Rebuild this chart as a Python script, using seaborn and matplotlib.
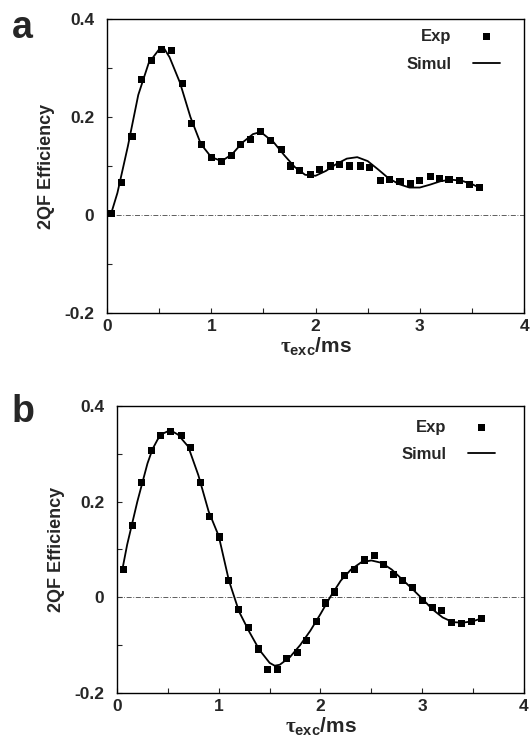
import seaborn as sns
import pandas as pd
import matplotlib.pyplot as plt

# panel a: experimental points
a_exp_t = [0.04, 0.14, 0.24, 0.33, 0.43, 0.52, 0.62, 0.72, 0.81, 0.91, 1.00, 1.10, 1.19,
           1.28, 1.38, 1.47, 1.57, 1.67, 1.76, 1.85, 1.95, 2.04, 2.14, 2.23, 2.33, 2.43,
           2.52, 2.62, 2.71, 2.81, 2.91, 3.00, 3.10, 3.19, 3.28, 3.38, 3.48, 3.57]
a_exp_y = [0.003, 0.066, 0.160, 0.277, 0.315, 0.338, 0.335, 0.269, 0.187, 0.143, 0.118,
           0.109, 0.122, 0.143, 0.154, 0.170, 0.152, 0.133, 0.100, 0.090, 0.082, 0.092,
           0.100, 0.103, 0.100, 0.100, 0.097, 0.070, 0.073, 0.069, 0.065, 0.071, 0.078,
           0.075, 0.073, 0.070, 0.063, 0.056]
# panel a: simulation
a_sim_t = [0.04, 0.1, 0.2, 0.3, 0.4, 0.5, 0.55, 0.6, 0.7, 0.8, 0.9, 1.0, 1.1, 1.2, 1.3,
           1.4, 1.45, 1.5, 1.6, 1.7, 1.8, 1.9, 2.0, 2.1, 2.2, 2.3, 2.4, 2.5, 2.6, 2.7,
           2.8, 2.9, 3.0, 3.1, 3.2, 3.3, 3.4, 3.5, 3.57]
a_sim_y = [0.003, 0.045, 0.14, 0.245, 0.31, 0.338, 0.339, 0.322, 0.27, 0.2, 0.145, 0.118,
           0.110, 0.124, 0.148, 0.165, 0.168, 0.165, 0.148, 0.122, 0.098, 0.082, 0.080,
           0.090, 0.104, 0.115, 0.118, 0.110, 0.093, 0.075, 0.063, 0.056, 0.056, 0.062,
           0.069, 0.072, 0.070, 0.063, 0.056]

# panel b: experimental points
b_exp_t = [0.06, 0.15, 0.24, 0.34, 0.43, 0.53, 0.63, 0.72, 0.82, 0.91, 1.01, 1.10, 1.19,
           1.29, 1.39, 1.48, 1.58, 1.67, 1.77, 1.86, 1.96, 2.05, 2.14, 2.24, 2.33, 2.43,
           2.53, 2.62, 2.72, 2.81, 2.90, 3.00, 3.10, 3.19, 3.29, 3.39, 3.48, 3.58]
b_exp_y = [0.058, 0.150, 0.239, 0.307, 0.339, 0.347, 0.338, 0.314, 0.239, 0.169, 0.126,
           0.035, -0.025, -0.064, -0.108, -0.150, -0.150, -0.127, -0.115, -0.090, -0.050,
           -0.012, 0.011, 0.045, 0.058, 0.078, 0.087, 0.068, 0.048, 0.035, 0.020, -0.007,
           -0.021, -0.028, -0.052, -0.054, -0.050, -0.044]
# panel b: simulation
b_sim_t = [0.05, 0.1, 0.15, 0.2, 0.25, 0.3, 0.35, 0.4, 0.45, 0.5, 0.55, 0.6, 0.7, 0.8,
           0.9, 1.0, 1.1, 1.2, 1.3, 1.4, 1.5, 1.55, 1.6, 1.7, 1.8, 1.9, 2.0, 2.1, 2.2,
           2.3, 2.4, 2.5, 2.6, 2.7, 2.8, 2.9, 3.0, 3.1, 3.2, 3.3, 3.4, 3.5, 3.57]
b_sim_y = [0.055, 0.11, 0.155, 0.2, 0.24, 0.28, 0.31, 0.33, 0.342, 0.347, 0.346, 0.34,
           0.315, 0.255, 0.18, 0.128, 0.035, -0.03, -0.072, -0.11, -0.137, -0.143, -0.141,
           -0.125, -0.10, -0.07, -0.035, 0.002, 0.035, 0.058, 0.073, 0.077, 0.072, 0.058,
           0.038, 0.018, -0.003, -0.025, -0.042, -0.052, -0.053, -0.05, -0.045]

x_ticks = [0, 1, 2, 3, 4]
x_minor = [0.5, 1.5, 2.5, 3.5]
y_ticks = [-0.2, 0, 0.2, 0.4]
y_minor = [-0.1, 0.1, 0.3]
x_tick_labels = ['0', '1', '2', '3', '4']
y_tick_labels = ['-0.2', '0', '0.2', '0.4']

sns.set_style('ticks')
plt.rcParams['font.family'] = ['Liberation Sans', 'DejaVu Sans']
plt.rcParams['font.weight'] = 'bold'
plt.rcParams['mathtext.fontset'] = 'custom'
plt.rcParams['mathtext.rm'] = 'Liberation Serif'
plt.rcParams['mathtext.it'] = 'Liberation Serif'
plt.rcParams['mathtext.bf'] = 'Liberation Sans:bold'

fig = plt.figure(figsize=(5.32, 7.38), dpi=100)
ax_a = fig.add_axes([0.2011, 0.5759, 0.784, 0.3984])
ax_b = fig.add_axes([0.2199, 0.061, 0.765, 0.389])

#          axes, exp t, exp y, sim t, sim y, tag, tag y, legend anchor
panels = [(ax_a, a_exp_t, a_exp_y, a_sim_t, a_sim_y, 'a', 0.948, (0.942, 0.965)),
          (ax_b, b_exp_t, b_exp_y, b_sim_t, b_sim_y, 'b', 0.428, (0.929, 0.952))]

for ax, et, ey, st, sy, tag, ty, anchor in panels:
    df_exp = pd.DataFrame({'t': et, 'eff': ey})
    df_sim = pd.DataFrame({'t': st, 'eff': sy})
    ax.axhline(0, color='#444444', lw=0.6, ls=(0, (6, 2, 1, 2)), zorder=1)
    sns.lineplot(data=df_sim, x='t', y='eff', ax=ax, color='black', lw=1.3,
                 label='Simul', zorder=2)
    sns.scatterplot(data=df_exp, x='t', y='eff', ax=ax, color='black', marker='s',
                    s=26, edgecolor='none', label='Exp', zorder=3)
    ax.set_xlim(0, 4)
    ax.set_ylim(-0.2, 0.4)
    ax.set_xticks(x_ticks)
    ax.set_xticklabels(x_tick_labels)
    ax.set_xticks(x_minor, minor=True)
    ax.set_yticks(y_ticks)
    ax.set_yticklabels(y_tick_labels)
    ax.set_yticks(y_minor, minor=True)
    ax.tick_params(which='both', direction='in', length=3.5, width=0.8,
                   labelsize=12.5, pad=4)
    ax.tick_params(axis='y', pad=9)
    for sp in ax.spines.values():
        sp.set_linewidth(1.0)
        sp.set_color('black')
    ax.set_xlabel(r'$\mathrm{\tau}_{\mathbf{exc}}$/ms', fontsize=15, fontweight='bold',
                  labelpad=1)
    ax.set_ylabel('2QF Efficiency', fontsize=13, fontweight='bold', labelpad=7)
    h, l = ax.get_legend_handles_labels()
    order = [l.index('Exp'), l.index('Simul')]
    ax.legend([h[i] for i in order], [l[i] for i in order], loc='upper right',
              bbox_to_anchor=anchor, markerfirst=False, frameon=False,
              handlelength=1.6, handletextpad=1.3, borderaxespad=0, borderpad=0,
              labelspacing=0.75, prop={'weight': 'bold', 'size': 12})
    fig.text(0.022, ty, tag, fontsize=27, fontweight='bold', va='baseline')

plt.savefig('out.png', dpi=100)
